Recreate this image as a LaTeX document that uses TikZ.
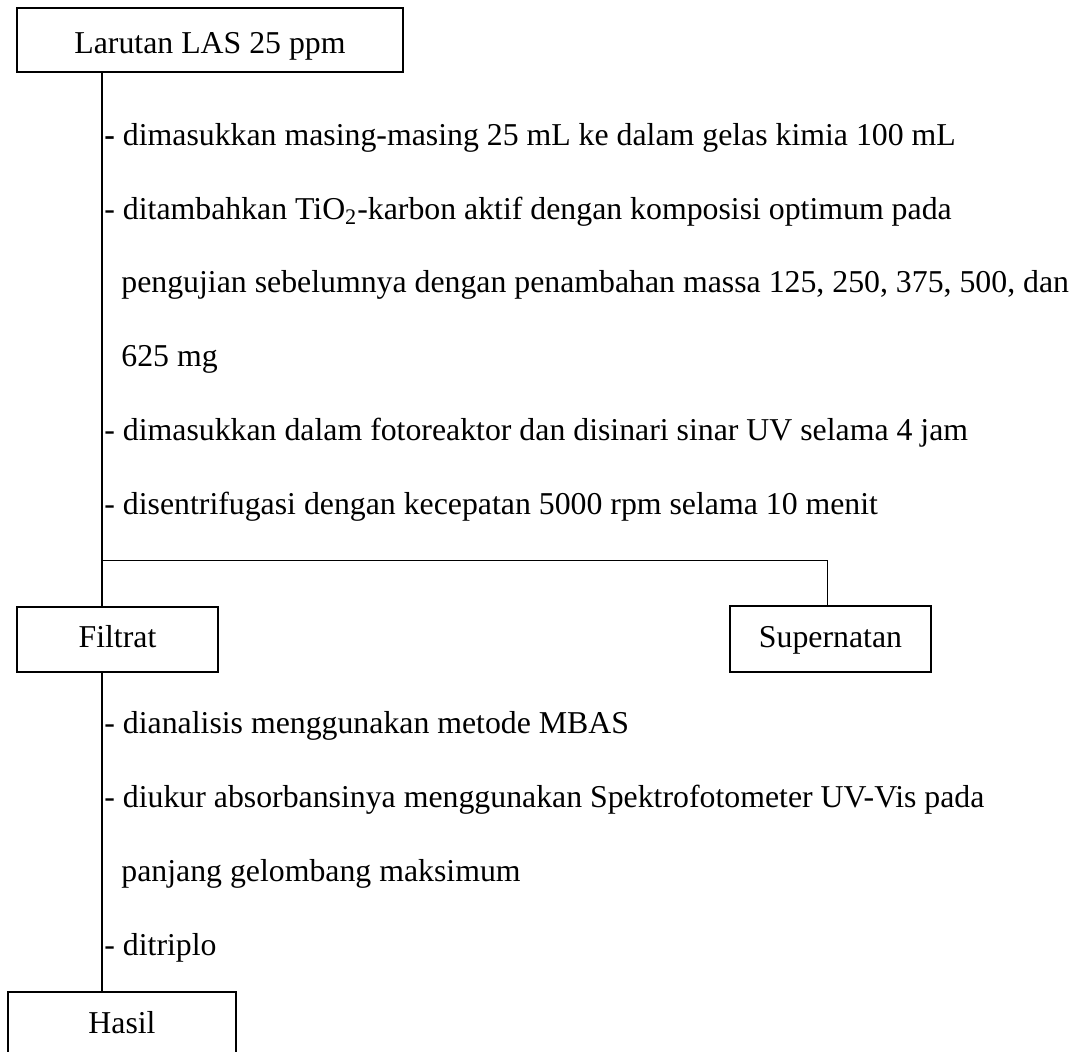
\documentclass[tikz,border=0pt]{standalone}
\usepackage{fontspec}
\setmainfont{Liberation Serif}
\begin{document}
\begin{tikzpicture}[x=0.5pt,y=-0.5pt,
  box/.style={draw, line width=1pt, inner sep=0pt, text depth=0pt},
  txt/.style={anchor=base west, inner sep=0pt},
  mainline/.style={line width=1pt},
  thinline/.style={line width=0.5pt},
  font=\fontsize{15.9pt}{19pt}\selectfont]
\useasboundingbox (0,0) rectangle (1075,1051);
\clip (0,0) rectangle (1075,1051);

% boxes
\node[box, minimum width=193pt, minimum height=32pt, text height=13pt] (top) at (210,40) {Larutan LAS 25 ppm};
\node[box, minimum width=100.5pt, minimum height=32.5pt, text height=7.5pt] (filtrat) at (117.5,639.5) {Filtrat};
\node[box, minimum width=100.5pt, minimum height=33pt, text height=8pt] (sup) at (830.5,639) {Supernatan};
\node[box, minimum width=114pt, minimum height=34pt, text height=7pt] (hasil) at (122,1026) {Hasil};

% helper coordinates
\coordinate (s1) at (102,0);
\coordinate (j) at (102,560);
\coordinate (jr) at (827,560);

% connectors
\draw[mainline] (s1 |- top.south) -- (s1 |- filtrat.north);
\draw[thinline] (j) -- (jr) -- (jr |- sup.north);
\draw[mainline] (s1 |- filtrat.south) -- (s1 |- hasil.north);

% step texts (upper)
\node[txt] (t1) at (104,145) {\textbf{-} dimasukkan masing-masing 25 mL ke dalam gelas kimia 100 mL};
\node[txt] (t2) at (104,219) {- ditambahkan TiO\textsubscript{2}-karbon aktif dengan komposisi optimum pada};
\node[txt] (t3) at (121,292) {pengujian sebelumnya dengan penambahan massa 125, 250, 375, 500, dan};
\node[txt] (t4) at (121,366) {625 mg};
\node[txt] (t5) at (104,440) {- dimasukkan dalam fotoreaktor dan disinari sinar UV selama 4 jam};
\node[txt] (t6) at (104,514) {- disentrifugasi dengan kecepatan 5000 rpm selama 10 menit};

% step texts (lower)
\node[txt] (u1) at (104,733) {- dianalisis menggunakan metode MBAS};
\node[txt] (u2) at (104,807) {- diukur absorbansinya menggunakan Spektrofotometer UV-Vis pada};
\node[txt] (u3) at (121,881) {panjang gelombang maksimum};
\node[txt] (u4) at (104,955) {- ditriplo};
\end{tikzpicture}
\end{document}
